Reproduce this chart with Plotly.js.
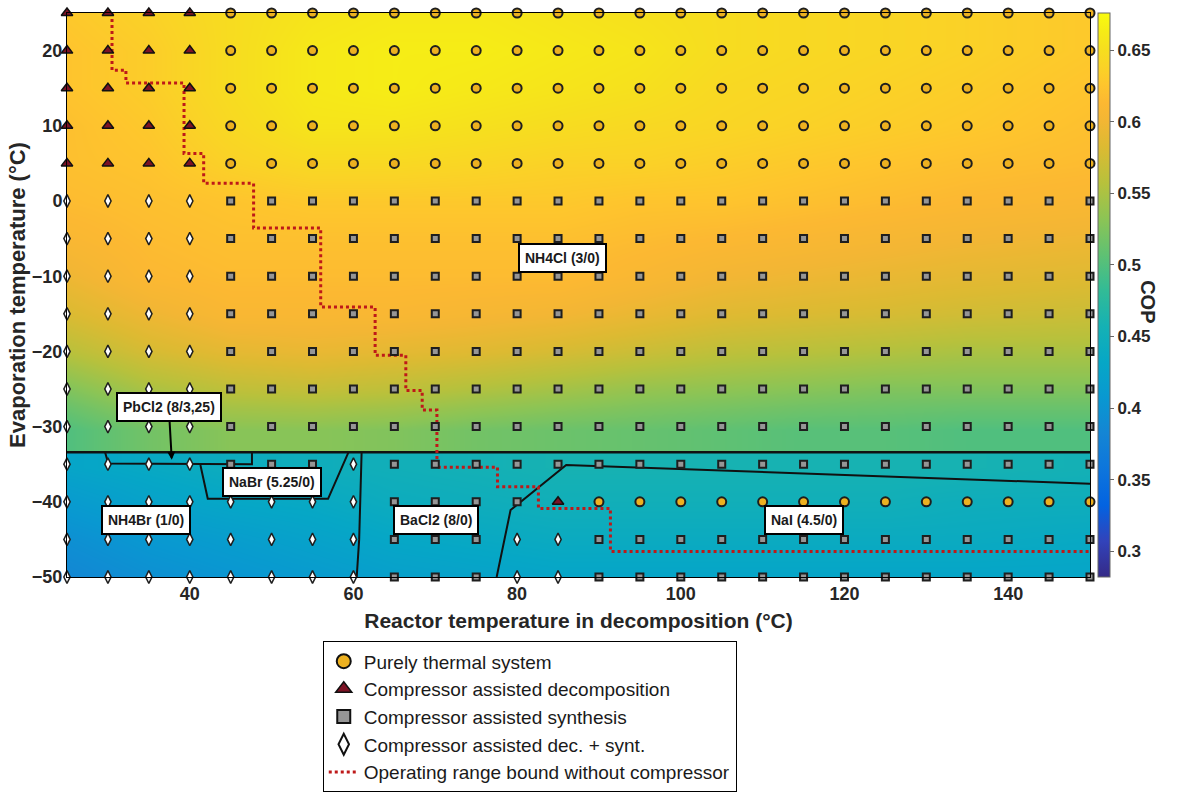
<!DOCTYPE html>
<html><head><meta charset="utf-8">
<script src="https://cdn.plot.ly/plotly-3.0.1.min.js"></script>
<style>html,body{margin:0;padding:0;background:#fff}</style>
</head><body><div id="chart" style="width:1184px;height:793px"></div>
<script>
// ---------- grid of operating points ----------
const gridX = [25,30,35,40,45,50,55,60,65,70,75,80,85,90,95,100,105,110,115,120,125,130,135,140,145,150];
const gridY = [25,20,15,10,5,0,-5,-10,-15,-20,-25,-30,-35,-40,-45,-50];
// o = purely thermal, t = compressor assisted decomposition, s = compressor assisted synthesis, d = dec. + synt.
const markerRows = [
  'tttt' + 'o'.repeat(22),
  'tttt' + 'o'.repeat(22),
  'tttt' + 'o'.repeat(22),
  'tttt' + 'o'.repeat(22),
  'tttt' + 'o'.repeat(22),
  'dddd' + 's'.repeat(22),
  'dddd' + 's'.repeat(22),
  'dddd' + 's'.repeat(22),
  'dddd' + 's'.repeat(22),
  'dddd' + 's'.repeat(22),
  'dddd' + 's'.repeat(22),
  'dddd' + 's'.repeat(22),
  'dddd' + 'sss' + 'd' + 's'.repeat(18),
  'd'.repeat(8) + 'ssss' + 't' + 'o'.repeat(13),
  'd'.repeat(8) + 'sss' + 'dd' + 's'.repeat(13),
  'd'.repeat(8) + 'sss' + 'dd' + 's'.repeat(13)
];

const copX = [25,35,45,55,65,75,85,95,105,115,125,135,150];
const copUpperYEdges = [-33.4,-27.5,-22.5,-17.5,-12.5,-7.5,-2.5,2.5,7.5,12.5,17.5,22.5,27.5];
const copUpper = [
  [0.499,0.518,0.530,0.530,0.526,0.518,0.514,0.511,0.507,0.503,0.503,0.499,0.499], // ~-30
  [0.526,0.550,0.562,0.566,0.562,0.554,0.546,0.538,0.534,0.530,0.526,0.526,0.526], // -25
  [0.558,0.578,0.589,0.593,0.589,0.585,0.578,0.570,0.562,0.558,0.554,0.550,0.550], // -20
  [0.581,0.597,0.609,0.609,0.609,0.605,0.601,0.593,0.585,0.581,0.578,0.574,0.570], // -15
  [0.597,0.613,0.617,0.617,0.617,0.617,0.617,0.609,0.601,0.597,0.593,0.589,0.585], // -10
  [0.609,0.617,0.621,0.621,0.621,0.621,0.621,0.617,0.613,0.609,0.605,0.601,0.597], // -5
  [0.617,0.621,0.625,0.629,0.629,0.629,0.629,0.625,0.625,0.621,0.617,0.613,0.609], // 0
  [0.621,0.625,0.637,0.644,0.644,0.641,0.637,0.637,0.633,0.629,0.625,0.621,0.617], // 5
  [0.621,0.629,0.644,0.656,0.656,0.652,0.648,0.644,0.641,0.637,0.633,0.629,0.621], // 10
  [0.625,0.633,0.648,0.660,0.664,0.660,0.656,0.652,0.644,0.641,0.637,0.633,0.625], // 15
  [0.625,0.633,0.648,0.660,0.664,0.664,0.660,0.656,0.648,0.644,0.641,0.637,0.629], // 20
  [0.629,0.637,0.648,0.656,0.660,0.660,0.656,0.652,0.648,0.644,0.641,0.637,0.629]  // 25
];
const copLowerYEdges = [-52.5,-47.5,-42.5,-37.5,-33.4];
const copLower = [
  [0.384,0.396,0.404,0.412,0.420,0.424,0.428,0.428,0.428,0.428,0.428,0.428,0.428], // -50
  [0.396,0.408,0.416,0.424,0.432,0.436,0.440,0.440,0.440,0.440,0.440,0.440,0.436], // -45
  [0.412,0.424,0.432,0.436,0.444,0.447,0.451,0.451,0.451,0.451,0.451,0.447,0.447], // -40
  [0.428,0.436,0.444,0.447,0.451,0.455,0.459,0.459,0.459,0.459,0.459,0.459,0.455]  // ~-35
];
const copTicks = [0.3,0.35,0.4,0.45,0.5,0.55,0.6,0.65];

// ---------- operating range bound without compressor ----------
const boundX = [30.5,30.5,32.2,32.2,39.3,39.3,41.7,41.7,47.8,47.8,56.0,56.0,62.65,62.65,66.4,66.4,68.4,68.4,70.2,70.2,77.6,77.6,82.6,82.6,91.4,91.4,150];
const boundY = [25,17.4,17.4,15.7,15.7,6.3,6.3,2.35,2.35,-3.6,-3.6,-14.1,-14.1,-20.5,-20.5,-25.2,-25.2,-27.8,-27.8,-35.4,-35.4,-38.0,-38.0,-40.9,-40.9,-46.6,-46.6];

// ---------- salt region boundaries ----------
const mainBoundX = [25,150];
const mainBoundY = [-33.4,-33.4];
const regionX = [29.65,30.05,47.6,47.6,null, 41.3,42.2,56.9,59.4,null, 61.0,60.7,60.4,null, 77.5,79.2,86.0,150];
const regionY = [-33.4,-34.9,-35.0,-33.4,null, -35.1,-39.6,-39.6,-33.4,null, -33.4,-45,-50,null, -50,-41.1,-35.1,-37.6];

// ---------- labels ----------
const saltLabels = ['NH4Cl (3/0)','PbCl2 (8/3,25)','NaBr (5.25/0)','NH4Br (1/0)','BaCl2 (8/0)','NaI (4.5/0)'];
const saltLabelX = [85.6,37.8,50.0,34.7,70.1,115.1];
const saltLabelY = [-7.6,-34.4,-37.4,-42.4,-42.4,-42.4];

const legendNames = ['Purely thermal system','Compressor assisted decomposition','Compressor assisted synthesis','Compressor assisted dec. + synt.','Operating range bound without compressor'];

// parula-like colormap
const parula = [
  [0,'rgb(53,42,135)'],[4/63,'rgb(50,67,186)'],[8/63,'rgb(3,99,225)'],[12/63,'rgb(13,117,220)'],
  [16/63,'rgb(20,133,212)'],[20/63,'rgb(9,152,209)'],[24/63,'rgb(6,167,198)'],[28/63,'rgb(21,177,180)'],
  [32/63,'rgb(50,187,150)'],[36/63,'rgb(95,193,115)'],[40/63,'rgb(140,196,85)'],[44/63,'rgb(183,193,60)'],
  [48/63,'rgb(220,186,50)'],[51/63,'rgb(243,182,52)'],[53/63,'rgb(252,184,50)'],[55/63,'rgb(254,197,45)'],
  [57/63,'rgb(250,211,38)'],[59/63,'rgb(246,223,30)'],[61/63,'rgb(246,236,22)'],[1,'rgb(249,251,14)']
];

const FONT = 'Liberation Sans, Arial, sans-serif';
const styles = {
  o: {symbol:'circle', size:9, color:'rgb(237,177,32)', line:{color:'#1e1e1e', width:2}},
  t: {symbol:'triangle-up', size:10, color:'rgb(125,18,36)', line:{color:'#111', width:1.5}},
  s: {symbol:'square', size:7, color:'rgb(150,150,150)', line:{color:'#1e1e1e', width:2}},
  d: {symbol:'diamond-tall', size:9, color:'#ffffff', line:{color:'#1e1e1e', width:1.5}}
};
const legendStyles = {
  o: {symbol:'circle', size:14, color:'rgb(237,177,32)', line:{color:'#111', width:2}},
  t: {symbol:'triangle-up', size:14, color:'rgb(125,18,36)', line:{color:'#111', width:1.5}},
  s: {symbol:'square', size:13, color:'rgb(150,150,150)', line:{color:'#111', width:2}},
  d: {symbol:'diamond-tall', size:15, color:'#ffffff', line:{color:'#111', width:2}}
};
const codes = ['o','t','s','d'];

const traces = [];
traces.push({type:'heatmap', x:copX, y:copUpperYEdges, z:copUpper, zsmooth:'best', coloraxis:'coloraxis', hoverinfo:'skip', showlegend:false});
traces.push({type:'heatmap', x:copX, y:copLowerYEdges, z:copLower, zsmooth:'best', coloraxis:'coloraxis', hoverinfo:'skip', showlegend:false});
traces.push({type:'scatter', mode:'lines', x:mainBoundX, y:mainBoundY, line:{color:'#111', width:2.5}, showlegend:false, hoverinfo:'skip'});
traces.push({type:'scatter', mode:'lines', x:regionX, y:regionY, line:{color:'#111', width:2}, showlegend:false, hoverinfo:'skip', connectgaps:false});
traces.push({type:'scatter', mode:'lines', x:boundX, y:boundY, name:legendNames[4], legendrank:5,
  line:{color:'rgb(190,25,25)', width:3, dash:'dot'}, hoverinfo:'skip'});

codes.forEach(c => {
  const xs = [], ys = [];
  markerRows.forEach((row, r) => {
    for (let i = 0; i < row.length; i++) if (row[i] === c) { xs.push(gridX[i]); ys.push(gridY[r]); }
  });
  traces.push({type:'scatter', mode:'markers', x:xs, y:ys, marker:styles[c], showlegend:false, cliponaxis:false, hoverinfo:'x+y'});
});
codes.forEach((c, k) => {
  traces.push({type:'scatter', mode:'markers', x:[null], y:[null], name:legendNames[k], legendrank:k+1, marker:legendStyles[c]});
});

const annotations = saltLabels.map((t, i) => {
  const a = {x:saltLabelX[i], y:saltLabelY[i], xref:'x', yref:'y', text:t, showarrow:false,
    font:{family:FONT, size:14, color:'#1a1a1a', weight:'bold'}, bgcolor:'#ffffff',
    bordercolor:'#000', borderwidth:2, borderpad:5};
  if (i === 1) { Object.assign(a, {showarrow:true, ax:-3, ay:-53, arrowhead:2, arrowsize:0.8, arrowwidth:2, arrowcolor:'#000', standoff:0}); }
  return a;
});
annotations.push({xref:'paper', yref:'paper', x:1.07, y:0.488, text:'COP', showarrow:false, textangle:90,
  font:{family:FONT, size:20, color:'#262626', weight:'bold'}});

const tickFont = {family:FONT, size:18, color:'#262626', weight:'bold'};
const layout = {
  width:1184, height:793,
  margin:{l:67, r:94, t:13, b:216, autoexpand:false},
  paper_bgcolor:'#fff', plot_bgcolor:'#fff',
  font:{family:FONT, color:'#262626'},
  xaxis:{range:[25,150], tickvals:[40,60,80,100,120,140], showgrid:false, zeroline:false, automargin:false,
    showline:true, mirror:true, linecolor:'#000', linewidth:1, ticks:'', tickfont:tickFont,
    title:{text:'Reactor temperature in decomposition (°C)', font:{family:FONT, size:21, color:'#262626', weight:'bold'}, standoff:10}},
  yaxis:{range:[-50,25], tickvals:[-50,-40,-30,-20,-10,0,10,20], showgrid:false, zeroline:false, automargin:false,
    showline:true, mirror:true, linecolor:'#000', linewidth:1, ticks:'', tickfont:tickFont,
    title:{text:'Evaporation temperature (°C)', font:{family:FONT, size:22, color:'#262626', weight:'bold'}, standoff:0}},
  coloraxis:{cmin:0.282, cmax:0.676, colorscale:parula,
    colorbar:{x:1.0078, xanchor:'left', y:0.5, yanchor:'middle', len:1, lenmode:'fraction', thickness:12,
      xpad:0, ypad:0, outlinewidth:1, outlinecolor:'#666', ticks:'outside', ticklen:4, tickcolor:'#666',
      tickvals:copTicks, tickfont:{family:FONT, size:17, color:'#262626', weight:'bold'}}},
  showlegend:true,
  legend:{x:0.25, y:-0.114, xanchor:'left', yanchor:'top', bgcolor:'#fff', bordercolor:'#000', borderwidth:1,
    font:{family:FONT, size:19, color:'#1a1a1a'}, traceorder:'normal', itemsizing:'trace', entrywidth:460, entrywidthmode:'pixels'},
  annotations:annotations
};
Plotly.newPlot('chart', traces, layout, {displayModeBar:false, staticPlot:true});
</script></body></html>
